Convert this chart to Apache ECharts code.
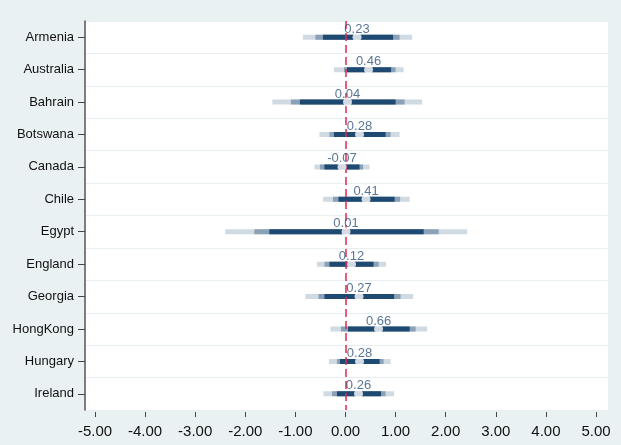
<!DOCTYPE html>
<html>
<head>
<meta charset="utf-8">
<script src="https://cdn.jsdelivr.net/npm/echarts@6/dist/echarts.min.js"></script>
<style>
  html, body { margin: 0; padding: 0; background: #e9f1f3; }
  #chart { width: 621px; height: 445px; }
</style>
</head>
<body>
<div id="chart"></div>
<script>
// Country estimates with nested confidence intervals (outer, middle, inner)
const countries = ['Armenia', 'Australia', 'Bahrain', 'Botswana', 'Canada', 'Chile',
  'Egypt', 'England', 'Georgia', 'HongKong', 'Hungary', 'Ireland'];
const estimate = [0.23, 0.46, 0.04, 0.28, -0.07, 0.41, 0.01, 0.12, 0.27, 0.66, 0.28, 0.26];
const outerLow  = [-0.85, -0.23, -1.46, -0.52, -0.62, -0.45, -2.40, -0.57, -0.80, -0.30, -0.33, -0.44];
const outerHigh = [1.33, 1.16, 1.53, 1.08, 0.48, 1.28, 2.43, 0.81, 1.35, 1.63, 0.90, 0.97];
const midLow    = [-0.60, -0.03, -1.09, -0.32, -0.51, -0.25, -1.82, -0.42, -0.54, -0.09, -0.17, -0.27];
const midHigh   = [1.08, 1.00, 1.18, 0.90, 0.35, 1.09, 1.86, 0.66, 1.10, 1.40, 0.76, 0.80];
const innerLow  = [-0.45, 0.03, -0.91, -0.23, -0.42, -0.14, -1.52, -0.32, -0.42, 0.05, -0.11, -0.17];
const innerHigh = [0.95, 0.91, 1.00, 0.80, 0.28, 0.98, 1.56, 0.56, 0.97, 1.28, 0.68, 0.71];
const xTicks = [-5, -4, -3, -2, -1, 0, 1, 2, 3, 4, 5];
// plot range is padded a little beyond the outermost ticks
const xMin = -5.2;
const xMax = 5.24;

const intervalData = countries.map((c, i) => [
  i, outerLow[i], outerHigh[i], midLow[i], midHigh[i], innerLow[i], innerHigh[i]
]);
const pointData = countries.map((c, i) => [estimate[i], c]);

const layerColors = ['#d0dae3', '#8aa1b7', '#1e4a72'];
const barHeight = 5;

function renderInterval(params, api) {
  const idx = api.value(0);
  const children = [];
  for (let k = 0; k < 3; k++) {
    const lo = api.coord([api.value(1 + 2 * k), idx]);
    const hi = api.coord([api.value(2 + 2 * k), idx]);
    children.push({
      type: 'rect',
      shape: { x: lo[0], y: lo[1] - barHeight / 2, width: hi[0] - lo[0], height: barHeight },
      style: { fill: layerColors[k] }
    });
  }
  return { type: 'group', children };
}

const chart = echarts.init(document.getElementById('chart'));
chart.setOption({
  backgroundColor: '#e9f1f3',
  animation: false,
  grid: { left: 85, right: 13, top: 21, bottom: 35, backgroundColor: '#ffffff', show: true, borderWidth: 0 },
  xAxis: {
    type: 'value',
    min: xMin,
    max: xMax,
    offset: 2,
    axisLine: { show: false },
    axisTick: { show: true, length: 5, customValues: xTicks, lineStyle: { color: '#444', width: 1 } },
    axisLabel: {
      customValues: xTicks,
      formatter: v => v.toFixed(2),
      fontFamily: 'Liberation Sans, Arial, sans-serif',
      fontSize: 15,
      color: '#111',
      margin: 12
    },
    splitLine: { show: false }
  },
  yAxis: {
    type: 'category',
    data: countries,
    inverse: true,
    axisLine: { show: true, onZero: false, lineStyle: { color: '#555', width: 1.5 } },
    axisTick: { show: true, alignWithLabel: true, length: 7, lineStyle: { color: '#444' } },
    axisLabel: {
      fontFamily: 'Liberation Sans, Arial, sans-serif',
      fontSize: 13,
      color: '#111',
      margin: 11
    },
    splitLine: { show: true, lineStyle: { color: '#e8eff2', width: 1 } }
  },
  series: [
    {
      type: 'custom',
      renderItem: renderInterval,
      data: intervalData,
      encode: { x: [1, 2], y: 0 },
      z: 2,
      markLine: {
        silent: true,
        symbol: 'none',
        label: { show: false },
        lineStyle: { color: '#e3284f', type: [8, 4], width: 1.5 },
        data: [{ xAxis: 0 }],
        z: 3
      }
    },
    {
      type: 'scatter',
      data: pointData,
      symbol: 'circle',
      symbolSize: 9,
      itemStyle: { color: '#ffffff' },
      z: 4,
      label: {
        show: true,
        position: 'top',
        distance: -3,
        formatter: p => p.value[0].toFixed(2),
        fontFamily: 'Liberation Sans, Arial, sans-serif',
        fontSize: 13,
        color: '#2f537a'
      }
    }
  ]
});
</script>
</body>
</html>
